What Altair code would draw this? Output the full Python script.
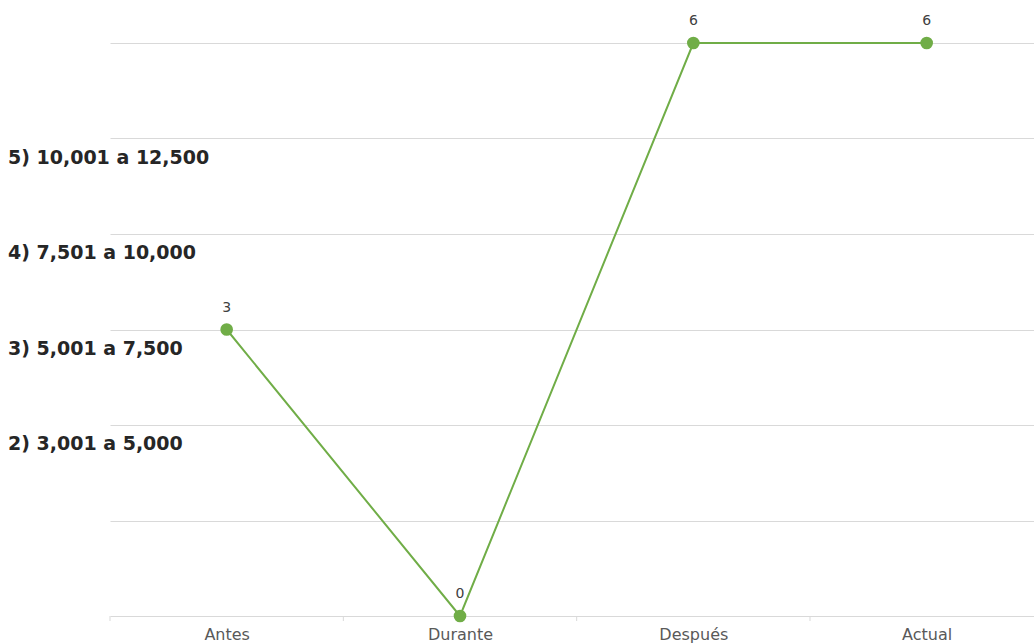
import altair as alt
import pandas as pd

# Period categories and the level reached in each one
periods = ["Antes", "Durante", "Después", "Actual"]
values = [3, 0, 6, 6]

# Income-range captions placed beside the vertical scale
range_labels = ["5) 10,001 a 12,500", "4) 7,501 a 10,000", "3) 5,001 a 7,500", "2) 3,001 a 5,000"]
range_levels = [5, 4, 3, 2]

# Category boundaries where the small axis ticks sit
boundaries = [-0.5, 0.5, 1.5, 2.5]

grid_levels = [0, 1, 2, 3, 4, 5, 6]

W, H = 924, 573
GREEN = "#70ad47"

df = pd.DataFrame({"idx": list(range(len(periods))), "periodo": periods, "valor": values})
ranges_df = pd.DataFrame({"label": range_labels, "nivel": range_levels})
ticks_df = pd.DataFrame({"b": boundaries})

label_expr = "[" + ",".join("'" + p + "'" for p in periods) + "][datum.value]"

x_scale = alt.Scale(domain=[-0.5, 3.46], nice=False, zero=False)
y_scale = alt.Scale(domain=[0, 6], nice=False, zero=True)

x_enc = alt.X(
    "idx:Q",
    scale=x_scale,
    axis=alt.Axis(
        values=list(range(len(periods))),
        labelExpr=label_expr,
        ticks=False,
        domain=False,
        grid=False,
        title=None,
        labelFont="DejaVu Sans",
        labelFontSize=16,
        labelColor="#595959",
        labelPadding=10,
    ),
)
y_enc = alt.Y(
    "valor:Q",
    scale=y_scale,
    axis=alt.Axis(
        values=grid_levels,
        labels=False,
        ticks=False,
        domain=False,
        grid=True,
        gridColor="#d9d9d9",
        gridWidth=1,
        title=None,
    ),
)

line = alt.Chart(df).mark_line(color=GREEN, strokeWidth=2).encode(x=x_enc, y=y_enc)
points = alt.Chart(df).mark_point(filled=True, size=160, color=GREEN, opacity=1).encode(
    x="idx:Q", y="valor:Q"
)
value_text = alt.Chart(df).mark_text(
    dy=-22, fontSize=14, color="#404040", font="DejaVu Sans"
).encode(x="idx:Q", y="valor:Q", text="valor:Q")

range_text = alt.Chart(ranges_df).mark_text(
    align="left", baseline="middle", dy=19, fontSize=19, fontWeight="bold",
    color="#262626", font="DejaVu Sans",
).encode(x=alt.value(-102), y=alt.Y("nivel:Q", scale=y_scale), text="label:N")

tick_marks = alt.Chart(ticks_df).mark_rule(color="#d9d9d9", strokeWidth=1).encode(
    x=alt.X("b:Q", scale=x_scale), y=alt.value(H), y2=alt.value(H + 5)
)

chart = (
    alt.layer(line, tick_marks, points, value_text, range_text)
    .properties(
        width=W,
        height=H,
        padding={"left": 110, "top": 43, "right": 0, "bottom": 28},
        autosize=alt.AutoSizeParams(type="none"),
        background="white",
    )
    .configure_view(stroke=None)
)

chart.save("out.html", embed_options={"renderer": "svg", "actions": False})
